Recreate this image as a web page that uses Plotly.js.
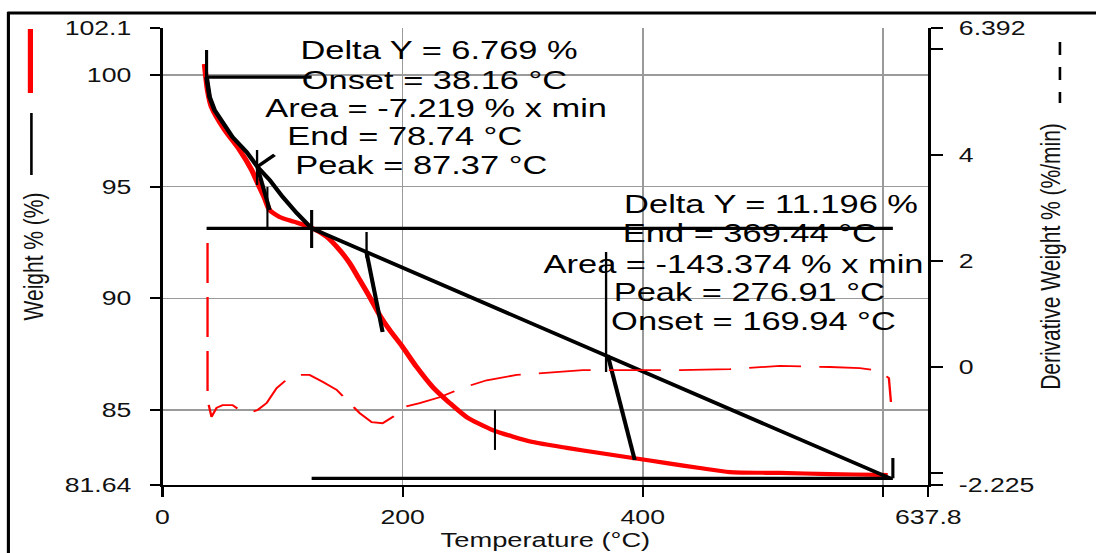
<!DOCTYPE html>
<html>
<head>
<meta charset="utf-8">
<script src="https://cdn.plot.ly/plotly-3.0.1.min.js"></script>
<style>
  html, body { margin: 0; padding: 0; background: #fff; overflow: hidden; }
  /* the instrument export is drawn wide: render narrower, then stretch horizontally */
  #chart { width: 843px; height: 553px; transform: scaleX(1.30012); transform-origin: 0 0; }
</style>
</head>
<body>
<div id="chart"></div>
<script>
// ---- TGA run: weight loss curve (Temperature °C, Weight %) ----
const weightT = [35.0, 37.5, 40.8, 51.7, 64.2, 74.2, 79.2, 85.0, 89.2, 97.5, 110.0, 124.2, 136.7, 147.5,
  155.8, 164.2, 172.5, 180.8, 189.2, 200.0, 211.7, 225.0, 239.2, 253.3, 275.0, 308.3, 336.7, 364.2,
  391.7, 420.0, 447.5, 472.5, 514.2, 555.8, 597.5, 604.0];
const weightPct = [100.49, 99.33, 98.57, 97.54, 96.64, 95.75, 95.16, 94.49, 93.95, 93.64, 93.42, 93.15,
  92.75, 92.16, 91.58, 90.82, 90.06, 89.25, 88.58, 87.82, 86.92, 86.03, 85.31, 84.68, 84.10, 83.56,
  83.30, 83.07, 82.85, 82.62, 82.40, 82.22, 82.18, 82.13, 82.09, 82.08];

// ---- derivative weight (%/min) ----
const derivT = [37.5, 37.5, 40.8, 45, 50, 58.3, 64.2, 72.5, 79.2, 86.7, 95, 105.8, 114.2, 122.5, 133.3,
  145, 155.8, 164.2, 174.2, 183.3, 193.3, 201.7, 214.2, 230.8, 251.7, 270, 295, 322.5, 350, 389.2,
  430.8, 472.5, 514.2, 555.8, 580.8, 593.3, 599.2, 605, 606.7];
const derivRate = [2.34, -0.62, -0.94, -0.77, -0.72, -0.72, -0.81, -0.87, -0.81, -0.68, -0.40, -0.19,
  -0.15, -0.15, -0.28, -0.43, -0.68, -0.87, -1.04, -1.06, -0.92, -0.75, -0.68, -0.57, -0.38, -0.25,
  -0.15, -0.11, -0.06, -0.06, -0.06, -0.04, 0.02, 0.0, -0.02, -0.06, -0.11, -0.21, -0.66];

// ---- step analysis results ----
const stepOnset = [38.16, 169.94];
const stepEnd = [78.74, 369.44];
const stepPeak = [87.37, 276.91];
const stepDeltaY = [6.769, 11.196];
const stepArea = [-7.219, -143.374];
const stepLimits = [36.7, 124.2, 608.3];   // analysis limits (°C)
const startLevel = 99.9;                    // weight level before the first step (%)

// baseline drawn through the two steps
const baselineT = [36.7, 39.2, 43.3, 50, 58.3, 70, 79.2, 89.2, 100, 111.7, 124.2, 606];
const baselineW = [99.9, 99.01, 98.43, 97.85, 97.22, 96.55, 95.88, 95.3, 94.54, 93.82, 93.13, 81.94];

// tangent constructions at onset / end points: [T0, T1], [W0, W1]
const tangentT = [[79.2, 89.2], [78.74, 93.3], [170.0, 183.3], [370.8, 393.3]];
const tangentW = [[95.84, 93.96], [95.88, 96.42], [92.03, 88.49], [87.46, 82.76]];

// vertical marker extents (Weight %) for the limits, onsets, ends and peaks
const limitTop = [101.12, 93.95, 82.85];
const limitBottom = [99.8, 92.25, 81.94];
const onsetTop = [null, 92.97];
const onsetBottom = [null, 91.8];
const endTop = [96.64, 92.07];
const endBottom = [95.07, 86.7];
const peakTop = [94.98, 85.0];
const peakBottom = [93.06, 83.21];

// ---- axes ----
const xTickVals = [0, 200, 400, 600, 637.8];
const xTickText = ['0', '200', '400', '', '637.8'];
const yTickVals = [81.64, 85, 90, 95, 100, 102.1];
const yTickText = ['81.64', '85', '90', '95', '100', '102.1'];
const y2TickVals = [-2.225, -2, 0, 2, 4, 6, 6.392];
const y2TickText = ['-2.225', '', '0', '2', '4', '', '6.392'];

// levels after each step
const levels = [startLevel];
stepDeltaY.forEach((d, i) => levels.push(+(levels[i] - d).toFixed(3)));

const FONT = 'Liberation Sans, Arial, sans-serif';
const BLACK = '#000000';
const RED = '#ff0000';

// helper to add vertical segments as one trace
function verticals(xs, tops, bottoms, width, name) {
  const x = [], y = [];
  xs.forEach((t, i) => {
    if (tops[i] == null) return;
    x.push(t, t, null); y.push(tops[i], bottoms[i], null);
  });
  return { x, y, type: 'scatter', mode: 'lines', name, hoverinfo: 'skip',
           line: { color: BLACK, width } };
}

const traces = [];

traces.push({
  x: derivT, y: derivRate, yaxis: 'y2', type: 'scatter', mode: 'lines', name: 'Derivative Weight',
  line: { color: RED, width: 1.8, dash: '40px,14px' }
});

traces.push({
  x: weightT, y: weightPct, type: 'scatter', mode: 'lines', name: 'Weight',
  line: { color: RED, width: 4.2, shape: 'spline', smoothing: 0.6 }
});

traces.push({
  x: baselineT, y: baselineW, type: 'scatter', mode: 'lines', name: 'Baseline',
  line: { color: BLACK, width: 3.6 }
});

// level lines: each step spans from its first limit to the next
{
  const x = [], y = [];
  // upper level of step 1
  x.push(stepLimits[0], stepLimits[1], null); y.push(levels[0], levels[0], null);
  // level between steps extends across both steps
  x.push(stepLimits[0], stepLimits[2], null); y.push(levels[1], levels[1], null);
  // final level of step 2
  x.push(stepLimits[1], stepLimits[2], null); y.push(levels[2], levels[2], null);
  traces.push({ x, y, type: 'scatter', mode: 'lines', name: 'Levels', hoverinfo: 'skip',
                line: { color: BLACK, width: 3.4 } });
}

// tangents
{
  const x = [], y = [];
  tangentT.forEach((t, i) => { x.push(t[0], t[1], null); y.push(tangentW[i][0], tangentW[i][1], null); });
  traces.push({ x, y, type: 'scatter', mode: 'lines', name: 'Tangents', hoverinfo: 'skip',
                line: { color: BLACK, width: 3.2 } });
}

traces.push(verticals(stepLimits, limitTop, limitBottom, 2.4, 'Limits'));
traces.push(verticals(stepOnset, onsetTop, onsetBottom, 1.8, 'Onset'));
traces.push(verticals(stepEnd, endTop, endBottom, 1.8, 'End'));
traces.push(verticals(stepPeak, peakTop, peakBottom, 1.6, 'Peak'));

// result labels
const labelFont = { family: FONT, size: 26.5, color: BLACK };
function label(text, x, y) {
  return { text, x, y, xref: 'x', yref: 'y', xanchor: 'left', yanchor: 'middle',
           showarrow: false, font: labelFont };
}
const fmtC = v => v.toFixed(2) + ' °C';
const annotations = [
  label('Delta Y = ' + stepDeltaY[0].toFixed(3) + ' %', 112.5, 101.1),
  label('Onset = ' + fmtC(stepOnset[0]), 114.0, 99.78),
  label('Area = ' + stepArea[0].toFixed(3) + ' % x min', 83.3, 98.52),
  label('End = ' + fmtC(stepEnd[0]), 101.6, 97.26),
  label('Peak = ' + fmtC(stepPeak[0]), 108.3, 95.96),
  label('Delta Y = ' + stepDeltaY[1].toFixed(3) + ' %', 382.5, 94.22),
  label('End = ' + fmtC(stepEnd[1]), 380.8, 92.92),
  label('Area = ' + stepArea[1].toFixed(3) + ' % x min', 315.0, 91.53),
  label('Peak = ' + fmtC(stepPeak[1]), 373.3, 90.28),
  label('Onset = ' + fmtC(stepOnset[1]), 371.6, 88.98)
];

// page geometry (pre-stretch pixels)
const S = 1096 / 843;
const M = { l: 125.4, r: 128.9, t: 28, b: 68 };
const PW = 843 - M.l - M.r, PH = 553 - M.t - M.b;
const px = X => (X / S - M.l) / PW;      // stretched page x -> paper x
const py = Y => (553 - M.b - Y) / PH;    // page y -> paper y

const shapes = [
  // outer frame
  { type: 'line', xref: 'paper', yref: 'paper', x0: px(9), x1: px(9), y0: py(12), y1: py(560),
    line: { color: BLACK, width: 2.4 } },
  { type: 'line', xref: 'paper', yref: 'paper', x0: px(8), x1: px(1100), y0: py(13), y1: py(13),
    line: { color: BLACK, width: 3 } },
  // line keys next to the axis titles
  { type: 'line', xref: 'paper', yref: 'paper', x0: px(31), x1: px(31), y0: py(29), y1: py(93),
    line: { color: RED, width: 4 } },
  { type: 'line', xref: 'paper', yref: 'paper', x0: px(32), x1: px(32), y0: py(113), y1: py(175),
    line: { color: BLACK, width: 2 } },
  { type: 'line', xref: 'paper', yref: 'paper', x0: px(1060), x1: px(1060), y0: py(42), y1: py(103),
    line: { color: BLACK, width: 2, dash: '13px,12px' } }
];

const axisCommon = {
  showline: true, linecolor: BLACK, ticks: 'outside', tickcolor: BLACK,
  tickfont: { family: FONT, size: 20.5, color: '#111' }, zeroline: false,
  gridcolor: '#9a9a9a', gridwidth: 1.2, tickmode: 'array'
};

const layout = {
  width: 843, height: 553,
  margin: M,
  paper_bgcolor: '#ffffff', plot_bgcolor: '#ffffff',
  showlegend: false,
  font: { family: FONT, color: BLACK },
  xaxis: Object.assign({}, axisCommon, {
    range: [0, 637.8], tickvals: xTickVals, ticktext: xTickText,
    ticklen: 10, tickwidth: 1.6, linewidth: 2, ticklabelstandoff: 2,
    showgrid: true,
    title: { text: 'Temperature (°C)', font: { family: FONT, size: 21, color: '#111' }, standoff: 6 }
  }),
  yaxis: Object.assign({}, axisCommon, {
    range: [81.64, 102.1], tickvals: yTickVals, ticktext: yTickText,
    ticklen: 7.7, tickwidth: 2, linewidth: 2.2, ticklabelstandoff: 10,
    showgrid: true,
    title: { text: 'Weight % (%)', font: { family: FONT, size: 21, color: '#111' }, standoff: 10 }
  }),
  yaxis2: Object.assign({}, axisCommon, {
    overlaying: 'y', side: 'right',
    range: [-2.225, 6.392], tickvals: y2TickVals, ticktext: y2TickText,
    ticklen: 9.2, tickwidth: 2, linewidth: 2.2, ticklabelstandoff: 8,
    showgrid: false,
    title: { text: 'Derivative Weight % (%/min)', font: { family: FONT, size: 21, color: '#111' }, standoff: 6 }
  }),
  shapes,
  annotations
};

Plotly.newPlot('chart', traces, layout, { displayModeBar: false, staticPlot: true });
</script>
</body>
</html>
